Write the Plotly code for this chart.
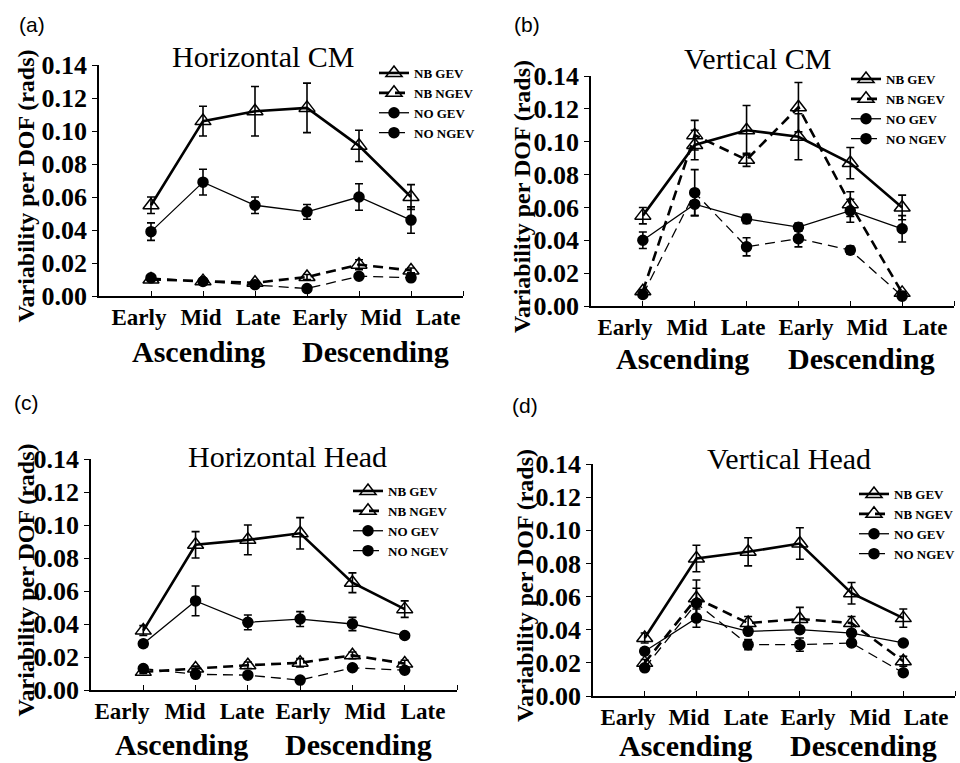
import plotly.graph_objects as go

# ---------------- data ----------------
categories = ["Early", "Mid", "Late", "Early", "Mid", "Late"]
phase_labels = ["Ascending", "Descending"]
series_names = ["NB GEV", "NB NGEV", "NO GEV", "NO NGEV"]
y_tick_values = [0.00, 0.02, 0.04, 0.06, 0.08, 0.10, 0.12, 0.14]
y_tick_text = ["0.00", "0.02", "0.04", "0.06", "0.08", "0.10", "0.12", "0.14"]
y_title = "Variability per DOF (rads)"

# (a) Horizontal CM
a_nb_gev = [0.055, 0.106, 0.112, 0.114, 0.091, 0.060]
a_nb_gev_err = [0.005, 0.009, 0.015, 0.015, 0.0095, 0.0075]
a_nb_ngev = [0.010, 0.009, 0.008, 0.0115, 0.019, 0.0155]
a_nb_ngev_err = [0.001, 0.001, 0.001, 0.0015, 0.003, 0.0015]
a_no_gev = [0.039, 0.069, 0.055, 0.051, 0.060, 0.046]
a_no_gev_err = [0.0053, 0.0078, 0.005, 0.0045, 0.008, 0.008]
a_no_ngev = [0.011, 0.0088, 0.0068, 0.0045, 0.012, 0.011]
a_no_ngev_err = [0.001, 0.001, 0.001, 0.001, 0.0015, 0.001]

# (b) Vertical CM
b_nb_gev = [0.055, 0.098, 0.107, 0.103, 0.087, 0.060]
b_nb_gev_err = [0.005, 0.009, 0.015, 0.014, 0.0095, 0.0075]
b_nb_ngev = [0.009, 0.104, 0.089, 0.121, 0.062, 0.008]
b_nb_ngev_err = [0.001, 0.009, 0.004, 0.015, 0.0075, 0.001]
b_no_gev = [0.040, 0.062, 0.053, 0.048, 0.058, 0.047]
b_no_gev_err = [0.005, 0.007, 0.0028, 0.0025, 0.007, 0.008]
b_no_ngev = [0.007, 0.069, 0.036, 0.041, 0.034, 0.006]
b_no_ngev_err = [0.001, 0.014, 0.0055, 0.005, 0.0025, 0.001]

# (c) Horizontal Head
c_nb_gev = [0.036, 0.088, 0.091, 0.095, 0.065, 0.049]
c_nb_gev_err = [0.003, 0.008, 0.009, 0.0095, 0.006, 0.005]
c_nb_ngev = [0.011, 0.013, 0.015, 0.0165, 0.021, 0.016]
c_nb_ngev_err = [0.001, 0.0015, 0.002, 0.0025, 0.002, 0.002]
c_no_gev = [0.028, 0.054, 0.041, 0.043, 0.040, 0.033]
c_no_gev_err = [0.002, 0.009, 0.0045, 0.0045, 0.004, 0.001]
c_no_ngev = [0.013, 0.0095, 0.009, 0.006, 0.0135, 0.012]
c_no_ngev_err = [0.001, 0.001, 0.001, 0.001, 0.0015, 0.001]

# (d) Vertical Head
d_nb_gev = [0.035, 0.083, 0.087, 0.092, 0.062, 0.047]
d_nb_gev_err = [0.003, 0.008, 0.0085, 0.0095, 0.0065, 0.0055]
d_nb_ngev = [0.020, 0.059, 0.044, 0.0465, 0.044, 0.021]
d_nb_ngev_err = [0.002, 0.011, 0.004, 0.007, 0.004, 0.003]
d_no_gev = [0.027, 0.047, 0.039, 0.040, 0.038, 0.032]
d_no_gev_err = [0.002, 0.0055, 0.002, 0.002, 0.002, 0.001]
d_no_ngev = [0.017, 0.056, 0.031, 0.031, 0.032, 0.014]
d_no_ngev_err = [0.001, 0.009, 0.003, 0.004, 0.002, 0.001]

panel_titles = ["Horizontal CM", "Vertical CM", "Horizontal Head", "Vertical Head"]
panel_letters = ["(a)", "(b)", "(c)", "(d)"]

panel_values = [
    [a_nb_gev, a_nb_ngev, a_no_gev, a_no_ngev],
    [b_nb_gev, b_nb_ngev, b_no_gev, b_no_ngev],
    [c_nb_gev, c_nb_ngev, c_no_gev, c_no_ngev],
    [d_nb_gev, d_nb_ngev, d_no_gev, d_no_ngev],
]
panel_errors = [
    [a_nb_gev_err, a_nb_ngev_err, a_no_gev_err, a_no_ngev_err],
    [b_nb_gev_err, b_nb_ngev_err, b_no_gev_err, b_no_ngev_err],
    [c_nb_gev_err, c_nb_ngev_err, c_no_gev_err, c_no_ngev_err],
    [d_nb_gev_err, d_nb_ngev_err, d_no_gev_err, d_no_ngev_err],
]

# ---------------- layout / styling ----------------
W, H = 960, 763
SERIF = "Liberation Serif, Times New Roman, serif"
SANS = "Liberation Sans, Arial, sans-serif"


def px_x(p):
    return p / W


def px_y(p):
    return 1 - p / H


# pixel geometry of each panel: axis left, right, top (0.14), bottom (0)
geom = [
    dict(l=99, r=463, t=65, b=296, label_px=[139, 201, 258, 320, 381, 438],
         title_xy=(263, 56), letter_xy=(32, 24), phase_px=[198, 375], phase_y=352,
         legend_xy=(380, 68), ytitle_x=26),
    dict(l=591, r=954, t=76, b=306, label_px=[625, 687, 743, 806, 867, 925],
         title_xy=(757, 58), letter_xy=(527, 24), phase_px=[682, 861], phase_y=358,
         legend_xy=(852, 74), ytitle_x=522),
    dict(l=91, r=457, t=459, b=690, label_px=[122, 185, 242, 303, 365, 423],
         title_xy=(287, 456), letter_xy=(26, 402), phase_px=[181, 358], phase_y=744,
         legend_xy=(354, 486), ytitle_x=26),
    dict(l=593, r=955, t=464, b=696, label_px=[628, 689, 746, 808, 870, 926],
         title_xy=(789, 458), letter_xy=(525, 405), phase_px=[685, 863], phase_y=745,
         legend_xy=(860, 489), ytitle_x=525),
]

styles = [
    dict(symbol="triangle-up-open", size=14, width=2.6, dash="solid"),
    dict(symbol="triangle-up-open", size=14, width=2.6, dash="10px,6px"),
    dict(symbol="circle", size=10, width=1.3, dash="solid"),
    dict(symbol="circle", size=10, width=1.3, dash="10px,6px"),
]

n_cat = len(categories)
x_pos = list(range(1, n_cat + 1))
x_max = n_cat + 1

fig = go.Figure()
annotations = []
layout_updates = {}

for i in range(4):
    g = geom[i]
    sfx = "" if i == 0 else str(i + 1)
    xa, ya = "x" + sfx, "y" + sfx
    leg = "legend" if i == 0 else "legend" + str(i + 1)
    for j, name in enumerate(series_names):
        st = styles[j]
        fig.add_trace(go.Scatter(
            x=x_pos, y=panel_values[i][j], name=name,
            xaxis=xa, yaxis=ya, legend=leg,
            mode="lines+markers",
            line=dict(color="black", width=st["width"], dash=st["dash"]),
            marker=dict(symbol=st["symbol"], size=st["size"], color="black",
                        line=dict(color="black", width=1.5)),
            error_y=dict(type="data", array=panel_errors[i][j], color="black",
                         thickness=1.6, width=4),
            showlegend=True,
        ))
    unit = (g["r"] - g["l"]) / x_max
    tickvals = [(p - g["l"]) / unit for p in g["label_px"]]
    layout_updates["xaxis" + sfx] = dict(
        domain=[px_x(g["l"]), px_x(g["r"])], anchor=ya, range=[0, x_max],
        tickvals=tickvals, ticktext=categories, ticks="", automargin=False,
        tickfont=dict(family=SERIF, size=23, color="black", weight="bold"),
        showline=True, linecolor="black", linewidth=1.5, showgrid=False, zeroline=False,
        minor=dict(tickmode="array", tickvals=list(range(1, x_max + 1)), ticks="inside",
                   ticklen=5, tickwidth=1.2, tickcolor="black", showgrid=False),
        fixedrange=True,
    )
    layout_updates["yaxis" + sfx] = dict(
        domain=[px_y(g["b"]), px_y(g["t"])], anchor=xa, range=[0, 0.14],
        tickvals=y_tick_values, ticktext=y_tick_text, ticks="outside", ticklen=5,
        tickwidth=1.2, tickcolor="black", automargin=False,
        tickfont=dict(family=SERIF, size=26, color="black", weight="bold"),
        showline=True, linecolor="black", linewidth=1.5, showgrid=False, zeroline=False,
        fixedrange=True,
    )
    # y-axis title placed in paper coordinates, centred on the axis
    annotations.append(dict(text=y_title, x=px_x(g["ytitle_x"]),
                            y=(px_y(g["b"]) + px_y(g["t"])) / 2 - 0.008,
                            xref="paper", yref="paper", showarrow=False, textangle=-90,
                            xanchor="center", yanchor="middle",
                            font=dict(family=SERIF, size=24, color="black", weight="bold")))
    lx, ly = g["legend_xy"]
    layout_updates[leg] = dict(
        x=px_x(lx - 6), y=px_y(ly - 10), xanchor="left", yanchor="top",
        font=dict(family=SERIF, size=13, color="black", weight="bold"),
        bgcolor="rgba(0,0,0,0)", tracegroupgap=0, itemwidth=30,
    )
    tx, ty = g["title_xy"]
    annotations.append(dict(text=panel_titles[i], x=px_x(tx), y=px_y(ty), xref="paper",
                            yref="paper", showarrow=False, xanchor="center", yanchor="middle",
                            font=dict(family=SERIF, size=30, color="black")))
    lx2, ly2 = g["letter_xy"]
    annotations.append(dict(text=panel_letters[i], x=px_x(lx2), y=px_y(ly2), xref="paper",
                            yref="paper", showarrow=False, xanchor="center", yanchor="middle",
                            font=dict(family=SANS, size=21, color="black")))
    for k, ph in enumerate(phase_labels):
        annotations.append(dict(text=ph, x=px_x(g["phase_px"][k]), y=px_y(g["phase_y"]),
                                xref="paper", yref="paper", showarrow=False,
                                xanchor="center", yanchor="middle",
                                font=dict(family=SERIF, size=30, color="black",
                                          weight="bold")))

fig.update_layout(
    width=W, height=H, margin=dict(l=0, r=0, t=0, b=0, autoexpand=False),
    paper_bgcolor="white", plot_bgcolor="white",
    font=dict(family=SERIF, color="black"),
    annotations=annotations, **layout_updates,
)

fig.write_html("out.html")
